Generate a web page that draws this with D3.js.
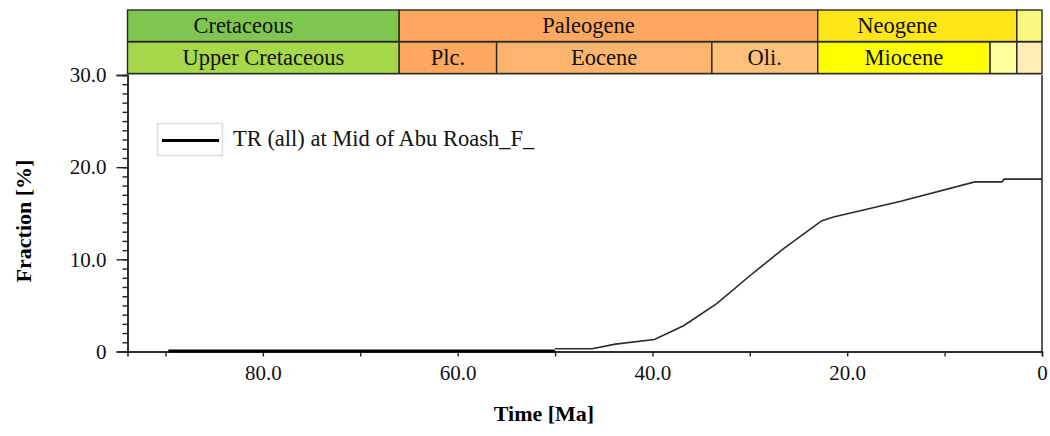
<!DOCTYPE html>
<html>
<head>
<meta charset="utf-8">
<script src="https://cdn.jsdelivr.net/npm/d3@7"></script>
<style>
  body { margin: 0; background: #fff; }
</style>
</head>
<body>
<div id="chart"></div>
<script>
// geologic timescale (Ma)
const periodLabels = ["Cretaceous", "Paleogene", "Neogene", ""];
const periodBounds = [[145, 66], [66, 23.03], [23.03, 2.58], [2.58, 0]];
const periodColors = ["#7fc64e", "#fda75f", "#ffe619", "#f9f97f"];

const epochLabels = ["Upper Cretaceous", "Plc.", "Eocene", "Oli.", "Miocene", "", ""];
const epochBounds = [[100.5, 66], [66, 56], [56, 33.9], [33.9, 23.03], [23.03, 5.33], [5.33, 2.58], [2.58, 0]];
const epochColors = ["#a6d84a", "#fda75f", "#fdb46c", "#fec07a", "#ffff00", "#ffff99", "#ffedb3"];

// TR (all) at Mid of Abu Roash_F_
const earlyTime = [89.7, 50.0];
const earlyTR   = [0.05, 0.05];
const lateTime  = [50.0, 46.2, 43.8, 39.8, 36.8, 33.4, 29.9, 26.5, 22.6, 21.4, 14.5, 6.9, 4.1, 3.9, 0];
const lateTR    = [0.3, 0.3, 0.8, 1.3, 2.8, 5.2, 8.3, 11.2, 14.2, 14.6, 16.3, 18.4, 18.4, 18.7, 18.7];

const xTicks = [90, 80, 70, 60, 50, 40, 30, 20, 10, 0];
const xLabels = [80, 60, 40, 20, 0];
const yMajor = [0, 10, 20, 30];
const yMinor = d3.range(0, 31, 1);

const legendLabel = "TR (all) at Mid of Abu Roash_F_";

const FONT = '"Times New Roman", Times, "Liberation Serif", Tinos, "DejaVu Serif", "Noto Serif", serif';
const W = 1050, H = 436;
const x = d3.scaleLinear().domain([93.9, 0]).range([127.5, 1042]);
const y = d3.scaleLinear().domain([0, 30]).range([351.5, 75]);

const svg = d3.select("#chart").append("svg")
    .attr("width", W)
    .attr("height", H)
    .attr("font-family", FONT);

const fmt = d => d === 0 ? "0" : d3.format(".1f")(d);

// timescale rows
const rowTop = [10, 42], rowH = 31.5;
function drawRow(labels, bounds, colors, top, dx) {
  const g = svg.append("g");
  bounds.forEach((b, i) => {
    const x0 = x(Math.min(b[0], x.domain()[0])), x1 = x(b[1]);
    g.append("rect")
      .attr("x", x0).attr("y", top)
      .attr("width", x1 - x0).attr("height", rowH)
      .attr("fill", colors[i])
      .attr("stroke", "#2a2a2a")
      .attr("stroke-width", 1.4);
    if (labels[i]) {
      g.append("text")
        .attr("x", (x0 + x1) / 2 + dx)
        .attr("y", top + rowH / 2 + 7.5)
        .attr("text-anchor", "middle")
        .style("font-family", FONT)
        .style("font-size", "22.5px")
        .attr("fill", "#111")
        .text(labels[i]);
    }
  });
}
drawRow(periodLabels, periodBounds, periodColors, rowTop[0], -20);
drawRow(epochLabels, epochBounds, epochColors, rowTop[1], 0);

// frame: right side + top under the timescale
svg.append("line")
  .attr("x1", x(0)).attr("x2", x(0))
  .attr("y1", y(30)).attr("y2", y(0))
  .attr("stroke", "#222").attr("stroke-width", 1.5);
svg.append("line")
  .attr("x1", x.range()[0]).attr("x2", x(0))
  .attr("y1", 74.5).attr("y2", 74.5)
  .attr("stroke", "#999").attr("stroke-width", 1);

// Y AXIS
const gY = svg.append("g").attr("transform", `translate(${x.range()[0]},0)`);
gY.call(d3.axisLeft(y).tickValues(yMinor).tickSize(5).tickFormat(""));
gY.append("g").call(d3.axisLeft(y).tickValues(yMajor).tickSize(11).tickPadding(22).tickFormat(fmt));
gY.selectAll("path.domain").attr("stroke", "#222").attr("stroke-width", 1.5);
gY.selectAll(".tick line").attr("stroke", "#222").attr("stroke-width", 1.4);
gY.selectAll(".tick text")
  .style("font-family", FONT)
  .style("font-size", "21px")
  .attr("fill", "#111")
  .attr("dx", 12);

// X AXIS
const gX = svg.append("g").attr("transform", `translate(0,${y(0)})`);
gX.call(d3.axisBottom(x).tickValues(xTicks).tickSize(5).tickFormat(""));
gX.append("g").call(d3.axisBottom(x).tickValues(xLabels).tickSize(0).tickPadding(14).tickFormat(fmt));
gX.selectAll("path.domain").attr("stroke", "#222").attr("stroke-width", 1.5);
gX.selectAll(".tick line").attr("stroke", "#222").attr("stroke-width", 1.4);
gX.selectAll(".tick text")
  .style("font-family", FONT)
  .style("font-size", "21px")
  .attr("fill", "#111");

// axis titles
svg.append("text")
  .attr("transform", "translate(31,221) rotate(-90)")
  .attr("text-anchor", "middle")
  .style("font-family", FONT)
  .style("font-size", "22px")
  .style("font-weight", "bold")
  .text("Fraction [%]");
svg.append("text")
  .attr("x", 544).attr("y", 421)
  .attr("text-anchor", "middle")
  .style("font-family", FONT)
  .style("font-size", "22px")
  .style("font-weight", "bold")
  .text("Time [Ma]");

// series
const line = d3.line()
  .x(d => x(d[0]))
  .y(d => y(d[1]));

svg.append("path")
  .datum(d3.zip(earlyTime, earlyTR))
  .attr("d", line)
  .attr("fill", "none")
  .attr("stroke", "#000")
  .attr("stroke-width", 3);
svg.append("path")
  .datum(d3.zip(lateTime, lateTR))
  .attr("d", line)
  .attr("fill", "none")
  .attr("stroke", "#2b2b2b")
  .attr("stroke-width", 1.6);

// legend
const gL = svg.append("g");
gL.append("rect")
  .attr("x", 157.5).attr("y", 123.5)
  .attr("width", 65).attr("height", 32)
  .attr("fill", "#fff")
  .attr("stroke", "#ddd")
  .attr("stroke-width", 1.5);
gL.append("line")
  .attr("x1", 162).attr("x2", 219)
  .attr("y1", 140.5).attr("y2", 140.5)
  .attr("stroke", "#000").attr("stroke-width", 3);
gL.append("text")
  .attr("x", 233).attr("y", 146)
  .style("font-family", FONT)
  .style("font-size", "22.5px")
  .attr("fill", "#111")
  .text(legendLabel);
</script>
</body>
</html>
